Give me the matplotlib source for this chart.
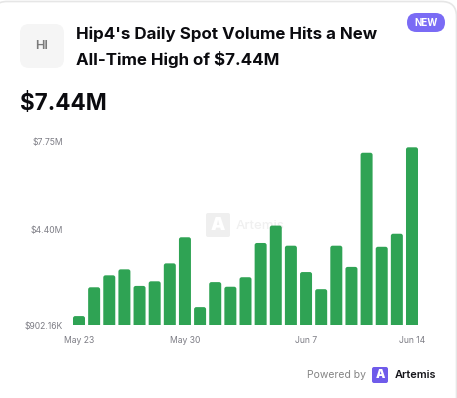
import matplotlib
matplotlib.use("Agg")
import matplotlib.pyplot as plt
from matplotlib.patches import FancyBboxPatch
from matplotlib.transforms import ScaledTranslation

plt.rcParams["font.family"] = ["Inter", "DejaVu Sans"]

W, H = 457, 398

# values, in $M
dates = list(range(23))
volume = [1.23, 2.29, 2.73, 2.95, 2.34, 2.51, 3.17, 4.13, 1.56, 2.48, 2.31, 2.66,
          3.92, 4.56, 3.82, 2.85, 2.22, 3.82, 3.04, 7.24, 3.78, 4.26, 7.44]
y_ticks = [0.90216, 4.40, 7.75]
y_labels = ["$902.16K", "$4.40M", "$7.75M"]
x_ticks = [0, 7, 15, 22]
x_labels = ["May 23", "May 30", "Jun 7", "Jun 14"]

title_lines = ["Hip4's Daily Spot Volume Hits a New", "All-Time High of $7.44M"]
headline = "$7.44M"

fig = plt.figure(figsize=(W / 100, H / 100), dpi=100, facecolor="white")

# whole-figure layer in pixel coordinates for the card
bg = fig.add_axes([0, 0, 1, 1])
bg.set_xlim(0, W)
bg.set_ylim(H, 0)
bg.axis("off")

bg.add_patch(FancyBboxPatch((-8, 1.5), 464.5, 420, boxstyle="round,pad=0,rounding_size=15",
                            fc="white", ec="#E6E6E6", lw=1.2))
# avatar
bg.add_patch(FancyBboxPatch((20, 24), 44, 44, boxstyle="round,pad=0,rounding_size=9",
                            fc="#F5F5F5", ec="none"))
bg.text(41.5, 46, "HI", ha="center", va="center", fontsize=9.2, color="#7A7A7A", fontweight="semibold")

# NEW badge
bg.add_patch(FancyBboxPatch((407, 13), 38, 19, boxstyle="round,pad=0,rounding_size=9.5",
                            fc="#7A6BF5", ec="none"))
bg.text(426, 22.5, "NEW", ha="center", va="center", fontsize=7, color="white", fontweight="bold")

for i, line in enumerate(title_lines):
    bg.text(76, 34.5 + i * 25.5, line, ha="left", va="center", fontsize=12.2,
            color="#0B0B0F", fontweight="bold")
bg.text(20, 104.5, headline, ha="left", va="center", fontsize=16.2, color="#0B0B0F", fontweight="bold")

# watermark
bg.add_patch(FancyBboxPatch((206, 213), 24, 24, boxstyle="round,pad=0,rounding_size=2",
                            fc="#EFEFEF", ec="none"))
bg.text(218, 225, "A", ha="center", va="center", fontsize=13, color="white", fontweight="black")
bg.text(236, 226, "Artemis", ha="left", va="center", fontsize=9.5, color="#F0F0F0", fontweight="medium")

# footer
bg.text(366, 375, "Powered by", ha="right", va="center", fontsize=7.5, color="#858585")
bg.add_patch(FancyBboxPatch((372, 367), 16, 16, boxstyle="round,pad=0,rounding_size=2",
                            fc="#6F5BEA", ec="none"))
bg.text(380, 375, "A", ha="center", va="center", fontsize=8.5, color="white", fontweight="black")
bg.text(394.5, 375, "Artemis", ha="left", va="center", fontsize=7.9, color="#15151A", fontweight="semibold")

# chart axes: left/right/top/bottom in pixels
px_per_day = 15.136
px_per_m = 27.18
left, right = 71, 420
base, top = 325, 135
ax = fig.add_axes([left / W, 1 - base / H, (right - left) / W, (base - top) / H])
ax.patch.set_alpha(0)
ax.set_xlim((left - 79) / px_per_day, (right - 79) / px_per_day)
ax.set_ylim(y_ticks[0], y_ticks[0] + (base - top) / px_per_m)
for s in ax.spines.values():
    s.set_visible(False)

bar_w = 12 / px_per_day
r = 2.2 / px_per_day
for d, v in zip(dates, volume):
    # box runs below the baseline so only the top corners stay round
    p = FancyBboxPatch((d - bar_w / 2, y_ticks[0] - 1), bar_w, v - y_ticks[0] + 1,
                       boxstyle=f"round,pad=0,rounding_size={r}",
                       mutation_aspect=px_per_day / px_per_m, fc="#2FA354", ec="none")
    ax.add_patch(p)

ax.set_yticks(y_ticks, y_labels)
ax.set_xticks(x_ticks, x_labels)
ax.tick_params(length=0, labelsize=6.2, labelcolor="#7D7D85")
ax.tick_params(axis="y", pad=5.6)
ax.tick_params(axis="x", pad=8.2)

# top label sits a little under its value in the reference
top_label = ax.get_yticklabels()[-1]
top_label.set_transform(top_label.get_transform() + ScaledTranslation(0, -3 / 100, fig.dpi_scale_trans))

fig.savefig("out.png", dpi=100)
